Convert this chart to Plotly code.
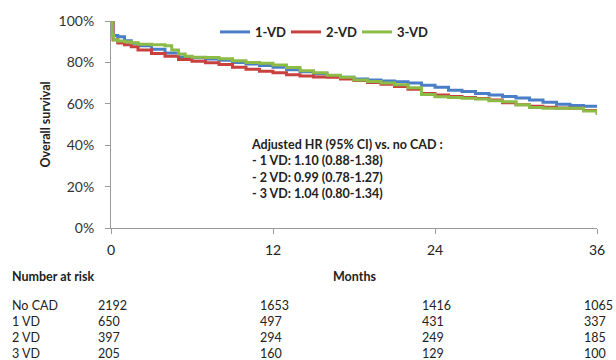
import plotly.graph_objects as go

# ---- data ----
months_1vd = [0, 0.15, 0.5, 1, 1.5, 2, 3, 4, 5, 6, 7, 8, 9, 10, 11, 12, 13, 14, 15, 16, 17, 18,
              19, 20, 21, 22, 23, 24, 25, 26, 27, 28, 29, 30, 31, 32, 33, 34, 35, 36]
surv_1vd = [100, 93, 92.4, 90.5, 89.2, 88, 86.3, 84.5, 82.6, 82.2, 81.6, 81, 80, 79.2, 78.5, 77.7,
            76.5, 75.5, 74.5, 73.5, 72.8, 72, 71.5, 71, 70.7, 70, 69, 68, 66.5, 66, 65, 64.3, 63.5,
            62.8, 61.8, 60.8, 59.8, 59.2, 58.8, 58.3]

months_2vd = [0, 0.15, 0.5, 1, 1.5, 2, 3, 4, 5, 6, 7, 8, 9, 10, 11, 12, 13, 14, 15, 16, 17, 18,
              19, 20, 21, 22, 23, 24, 25, 26, 27, 28, 29, 30, 31, 32, 33, 34, 35, 36]
surv_2vd = [100, 91, 89.4, 88.5, 87.5, 86, 84.3, 83, 81.4, 80.5, 79.8, 79, 77.6, 76.7, 75.7, 75,
            74, 73.4, 73, 72.8, 72, 71.2, 70.3, 69.5, 68.4, 67, 65, 64.3, 63.5, 63, 62.5, 61.8,
            60.5, 59.5, 58.8, 58.3, 58, 57.8, 56.8, 55.7]

months_3vd = [0, 0.1, 0.2, 0.5, 1, 1.5, 2, 3, 4, 4.5, 5, 5.5, 6, 7, 8, 9, 10, 11, 12, 13, 14, 15,
              16, 17, 18, 19, 20, 21, 22, 23, 24, 25, 26, 27, 28, 29, 30, 31, 32, 33, 34, 35, 36]
surv_3vd = [100, 93, 90.8, 90.3, 90, 89.5, 88.8, 88.5, 88, 86, 84, 83, 82.5, 82.4, 81.8, 80.8,
            80, 79.6, 78.8, 77.5, 76, 75, 73.8, 72.8, 71.5, 70.8, 70, 69.2, 67.8, 64.5, 63.4, 63,
            62.7, 62.3, 61.5, 61, 59.5, 58.2, 57.8, 57.8, 57.8, 56.5, 54.6]

series_names = ["1-VD", "2-VD", "3-VD"]
series_colors = ["#4A7EC6", "#C9413F", "#8DBB47"]

x_ticks = [0, 12, 24, 36]
y_ticks = [0, 20, 40, 60, 80, 100]
y_tick_labels = ["0%", "20%", "40%", "60%", "80%", "100%"]

risk_groups = ["No CAD", "1 VD", "2 VD", "3 VD"]
risk_no_cad = [2192, 1653, 1416, 1065]
risk_1vd = [650, 497, 431, 337]
risk_2vd = [397, 294, 249, 185]
risk_3vd = [205, 160, 129, 100]

hr_lines = ["Adjusted HR (95% CI) vs. no CAD :",
            "- 1 VD: 1.10 (0.88-1.38)",
            "- 2 VD: 0.99 (0.78-1.27)",
            "- 3 VD: 1.04 (0.80-1.34)"]

FONT = "Lato, 'Open Sans', sans-serif"

fig = go.Figure()
for name, xs, ys, col in zip(series_names,
                             [months_1vd, months_2vd, months_3vd],
                             [surv_1vd, surv_2vd, surv_3vd],
                             series_colors):
    fig.add_trace(go.Scatter(x=xs, y=ys, mode="lines", name=name,
                             line=dict(color=col, width=3, shape="hv")))

fig.update_layout(
    width=616, height=360,
    margin=dict(l=111, r=19, t=21, b=132),
    plot_bgcolor="white", paper_bgcolor="white",
    font=dict(family=FONT, color="#222"),
    showlegend=True,
    legend=dict(orientation="h", x=0.214, y=0.947, xanchor="left", yanchor="middle",
                font=dict(size=13, color="#222", family=FONT, weight="bold"),
                bgcolor="rgba(0,0,0,0)", entrywidth=26, itemwidth=30,
                tracegroupgap=0),
    xaxis=dict(range=[0, 36], tickvals=x_ticks, showgrid=False, zeroline=False,
               showline=True, linecolor="#9a9a9a", linewidth=1,
               ticks="outside", ticklen=5, tickcolor="#9a9a9a",
               tickfont=dict(size=14, color="#222"), ticklabelstandoff=4),
    yaxis=dict(range=[0, 100], tickvals=y_ticks, ticktext=y_tick_labels, showgrid=False,
               zeroline=False, showline=True, linecolor="#9a9a9a", linewidth=1,
               ticks="outside", ticklen=5, tickcolor="#9a9a9a",
               tickfont=dict(size=14, color="#333"), ticklabelstandoff=8),
)

# y axis title
fig.add_annotation(xref="paper", yref="paper", x=0, y=0.5, xshift=-66, xanchor="center",
                   yanchor="middle", text="<b>Overall survival</b>", textangle=-90,
                   showarrow=False, font=dict(size=12.5, color="#222"))

# HR annotation
fig.add_annotation(xref="x", yref="y", x=10.2, y=41, xanchor="left", yanchor="top",
                   text="<br>".join("<b>%s</b>" % s for s in hr_lines), align="left",
                   showarrow=False, font=dict(size=12.5, color="#222"), yshift=8)

# Number at risk table
row_y = [-0.372, -0.452, -0.527, -0.606]
fig.add_annotation(xref="paper", yref="paper", x=0, xshift=-101, y=-0.236,
                   xanchor="left", yanchor="middle", text="<b>Number at risk</b>",
                   showarrow=False, font=dict(size=12.5, color="#222"))
fig.add_annotation(xref="x", yref="paper", x=18, y=-0.236, xanchor="center",
                   yanchor="middle", text="<b>Months</b>", showarrow=False,
                   font=dict(size=12.5, color="#222"))
for grp, vals, yy in zip(risk_groups, [risk_no_cad, risk_1vd, risk_2vd, risk_3vd], row_y):
    fig.add_annotation(xref="paper", yref="paper", x=0, xshift=-101, y=yy,
                       xanchor="left", yanchor="middle", text=grp, showarrow=False,
                       font=dict(size=12.5, color="#222"))
    for xt, v in zip(x_ticks, vals):
        fig.add_annotation(xref="x", yref="paper", x=xt, y=yy, xshift=-15,
                           xanchor="left", yanchor="middle", text=str(v),
                           showarrow=False, font=dict(size=12.5, color="#222"))

fig.write_html("out.html", config={"displayModeBar": False},
               post_script="document.body.style.margin='0';")
